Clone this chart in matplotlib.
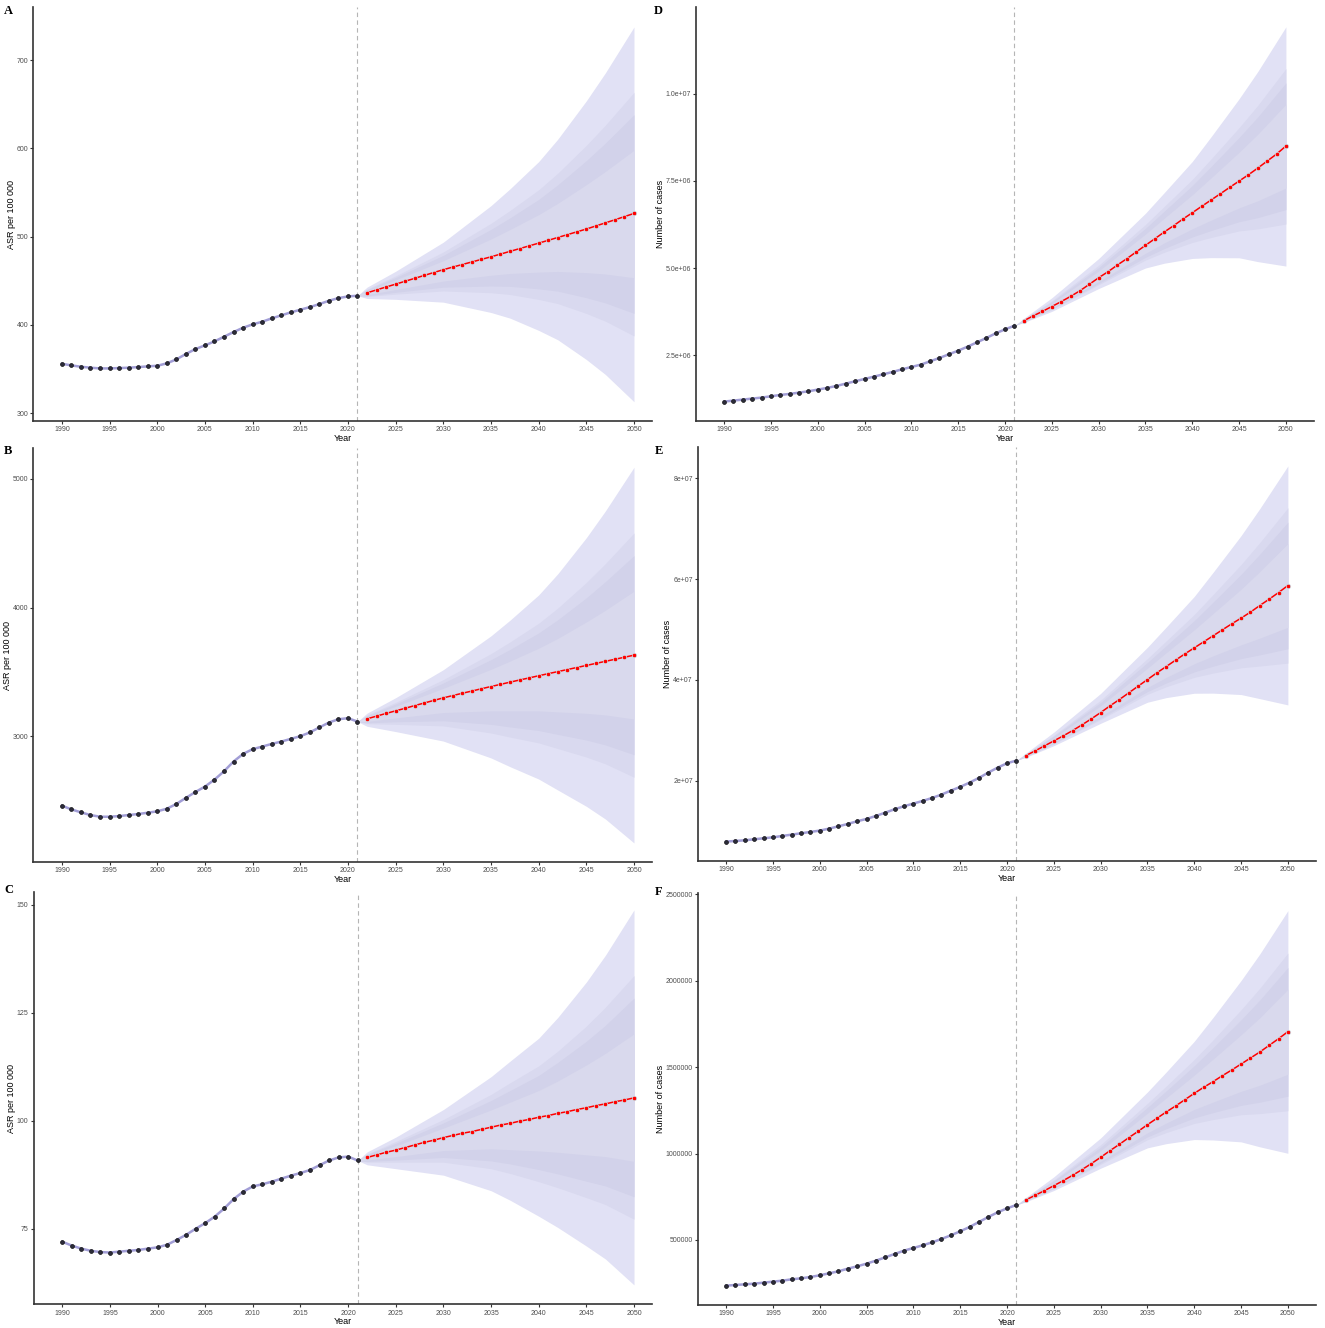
"""Projected ASR and case numbers, 1990-2050 (observed + forecast fan)."""

import matplotlib
matplotlib.use("Agg")
import matplotlib.pyplot as plt
import numpy as np

plt.rcParams['font.family'] = ['Liberation Sans', 'DejaVu Sans']

OBS_YEARS = list(range(1990, 2022))
PROJ_YEARS = list(range(2022, 2051))
BAND_YEARS = [2021, 2022, 2025, 2030, 2035, 2037, 2040, 2042, 2045, 2047, 2050]
XTICKS = list(range(1990, 2051, 5))

# ---- A: ASR per 100 000 ----
A_OBS = [355.9, 354.0, 352.5, 351.4, 350.6, 350.6, 351.0, 351.4, 352.1, 352.9, 353.6,
         356.3, 360.8, 366.9, 372.5, 376.7, 381.2, 386.5, 391.8, 396.7, 400.5, 403.5,
         407.3, 410.7, 414.1, 417.1, 420.1, 423.5, 427.3, 430.3, 432.2, 433.0]
A_PROJ = [436.3, 439.6, 442.9, 446.1, 449.4, 452.7, 456.0, 459.3, 462.5, 465.5, 468.4,
          471.3, 474.2, 477.1, 480.2, 483.3, 486.4, 489.5, 492.6, 495.8, 499.0, 502.2,
          505.4, 508.6, 512.1, 515.6, 519.1, 522.7, 526.3]
# fan bands, outer (95%) to inner, values at BAND_YEARS
A_UPPER = [[433.0, 442.7, 460.7, 493.7, 535.1, 554.2, 585.0, 610.4, 653.9, 685.7, 737.7],
           [433.0, 440.5, 455.5, 482.6, 515.1, 529.7, 553.1, 571.9, 603.5, 626.4, 663.6],
           [433.0, 439.7, 453.7, 478.8, 508.2, 521.3, 542.2, 558.7, 586.2, 606.1, 638.2],
           [433.0, 438.5, 450.9, 472.7, 497.3, 508.1, 524.9, 537.7, 558.9, 573.9, 597.9]]
A_LOWER = [[433.0, 429.9, 428.9, 425.7, 414.0, 407.6, 393.7, 383.1, 360.7, 343.7, 312.8],
           [433.0, 432.1, 434.8, 438.4, 436.4, 434.4, 428.8, 424.1, 412.9, 404.1, 387.4],
           [433.0, 432.9, 436.9, 442.7, 444.0, 443.6, 440.8, 438.2, 430.8, 424.8, 413.0],
           [433.0, 434.1, 440.1, 449.6, 456.2, 458.2, 459.8, 460.5, 459.2, 457.6, 453.4]]

# ---- B: ASR per 100 000 ----
B_OBS = [2460, 2431, 2408, 2387, 2374, 2374, 2379, 2387, 2395, 2405, 2416, 2436, 2473,
         2520, 2566, 2608, 2662, 2727, 2803, 2862, 2899, 2919, 2940, 2958, 2979, 3000,
         3029, 3068, 3106, 3132, 3140, 3114]
B_PROJ = [3135, 3156, 3177, 3197, 3217, 3238, 3258, 3278, 3298, 3316, 3334, 3351, 3369,
          3386, 3403, 3420, 3437, 3453, 3470, 3486, 3502, 3518, 3534, 3550, 3566, 3582,
          3598, 3614, 3630]
B_UPPER = [[3114, 3179, 3299, 3517, 3780, 3902, 4098, 4262, 4543, 4751, 5091],
           [3114, 3164, 3263, 3440, 3642, 3733, 3878, 3996, 4195, 4342, 4580],
           [3114, 3158, 3251, 3414, 3595, 3675, 3803, 3905, 4076, 4202, 4404],
           [3114, 3150, 3232, 3372, 3520, 3584, 3684, 3760, 3888, 3979, 4127]]
B_LOWER = [[3114, 3077, 3036, 2962, 2831, 2763, 2667, 2582, 2455, 2356, 2170],
           [3114, 3097, 3092, 3080, 3025, 2993, 2948, 2904, 2838, 2785, 2681],
           [3114, 3104, 3112, 3120, 3092, 3072, 3044, 3014, 2970, 2932, 2856],
           [3114, 3115, 3142, 3184, 3197, 3197, 3197, 3189, 3178, 3165, 3134]]

# ---- C: ASR per 100 000 ----
C_OBS = [72.0, 71.1, 70.4, 69.9, 69.6, 69.5, 69.7, 69.9, 70.1, 70.4, 70.7, 71.3, 72.4,
         73.6, 75.0, 76.3, 77.8, 79.7, 81.9, 83.6, 84.8, 85.3, 85.9, 86.6, 87.3, 87.9,
         88.6, 89.7, 90.8, 91.5, 91.7, 90.8]
C_PROJ = [91.5, 92.1, 92.7, 93.2, 93.8, 94.4, 95.0, 95.5, 96.1, 96.6, 97.1, 97.5, 98.0,
          98.5, 99.0, 99.4, 99.9, 100.3, 100.8, 101.2, 101.7, 102.1, 102.6, 103.0, 103.5,
          103.9, 104.4, 104.8, 105.3]
C_UPPER = [[90.8, 92.8, 96.2, 102.6, 110.2, 113.8, 119.1, 123.9, 132.1, 138.3, 148.8],
           [90.8, 92.3, 95.2, 100.3, 106.1, 108.8, 112.7, 116.1, 121.9, 126.3, 133.6],
           [90.8, 92.2, 94.8, 99.5, 104.7, 107.0, 110.5, 113.5, 118.4, 122.1, 128.4],
           [90.8, 91.9, 94.2, 98.3, 102.5, 104.3, 107.0, 109.2, 112.9, 115.6, 120.1]]
C_LOWER = [[90.8, 89.8, 88.9, 87.4, 83.8, 81.6, 77.9, 75.3, 71.0, 68.0, 62.0],
           [90.8, 90.4, 90.4, 90.4, 88.9, 87.8, 85.9, 84.5, 82.2, 80.6, 77.2],
           [90.8, 90.6, 90.9, 91.5, 90.7, 90.0, 88.7, 87.7, 86.0, 84.9, 82.4],
           [90.8, 90.9, 91.7, 93.1, 93.5, 93.3, 93.0, 92.7, 92.1, 91.7, 90.6]]

# ---- D: number of cases (millions) ----
D_OBS = [1.174, 1.202, 1.231, 1.260, 1.288, 1.326, 1.364, 1.393, 1.431, 1.469, 1.517,
         1.565, 1.622, 1.689, 1.756, 1.823, 1.889, 1.956, 2.023, 2.099, 2.166, 2.233,
         2.328, 2.424, 2.529, 2.634, 2.748, 2.872, 2.996, 3.130, 3.244, 3.349]
D_PROJ = [3.49, 3.63, 3.76, 3.90, 4.04, 4.19, 4.35, 4.536, 4.725, 4.897, 5.089, 5.270,
          5.462, 5.654, 5.843, 6.035, 6.216, 6.408, 6.588, 6.772, 6.952, 7.133, 7.317,
          7.497, 7.678, 7.870, 8.071, 8.271, 8.501]
D_UPPER = [[3.349, 3.56, 4.15, 5.275, 6.574, 7.164, 8.058, 8.765, 9.857, 10.640, 11.92],
           [3.349, 3.536, 4.063, 5.083, 6.252, 6.769, 7.544, 8.130, 9.031, 9.671, 10.724],
           [3.349, 3.527, 4.033, 5.017, 6.142, 6.633, 7.367, 7.913, 8.748, 9.338, 10.314],
           [3.349, 3.515, 3.988, 4.918, 5.976, 6.430, 7.103, 7.587, 8.323, 8.840, 9.698]]
D_LOWER = [[3.349, 3.44, 3.76, 4.415, 5.004, 5.141, 5.278, 5.301, 5.297, 5.187, 5.06],
           [3.349, 3.457, 3.809, 4.523, 5.231, 5.454, 5.736, 5.879, 6.067, 6.126, 6.265],
           [3.349, 3.463, 3.826, 4.561, 5.309, 5.561, 5.894, 6.077, 6.331, 6.448, 6.678],
           [3.349, 3.472, 3.851, 4.616, 5.426, 5.722, 6.129, 6.374, 6.727, 6.931, 7.297]]

# ---- E: number of cases (millions) ----
E_OBS = [7.98, 8.11, 8.24, 8.44, 8.64, 8.83, 9.10, 9.36, 9.63, 9.89, 10.16, 10.55,
         11.01, 11.48, 12.01, 12.47, 13.06, 13.72, 14.39, 14.98, 15.51, 16.04, 16.63,
         17.29, 18.08, 18.81, 19.67, 20.59, 21.65, 22.64, 23.50, 24.03]
E_PROJ = [25.01, 25.95, 26.94, 27.93, 28.92, 29.97, 31.10, 32.29, 33.54, 34.87, 36.12,
          37.44, 38.77, 40.08, 41.41, 42.65, 43.92, 45.17, 46.36, 47.55, 48.74, 49.93,
          51.12, 52.25, 53.44, 54.75, 56.01, 57.32, 58.71]
E_UPPER = [[24.03, 25.48, 29.66, 37.33, 46.48, 50.47, 56.55, 61.30, 68.60, 73.95, 82.41],
           [24.03, 25.32, 29.05, 36.00, 44.24, 47.73, 52.98, 56.90, 62.88, 67.23, 74.12],
           [24.03, 25.26, 28.85, 35.55, 43.47, 46.79, 51.76, 55.40, 60.92, 64.93, 71.27],
           [24.03, 25.17, 28.54, 34.87, 42.32, 45.39, 49.93, 53.14, 57.97, 61.47, 67.01]]
E_LOWER = [[24.03, 24.66, 26.98, 31.41, 35.59, 36.50, 37.37, 37.39, 37.11, 36.30, 35.06],
           [24.03, 24.78, 27.31, 32.16, 37.16, 38.65, 40.52, 41.36, 42.41, 42.76, 43.34],
           [24.03, 24.82, 27.43, 32.41, 37.70, 39.39, 41.60, 42.72, 44.23, 44.97, 46.18],
           [24.03, 24.89, 27.60, 32.79, 38.51, 40.50, 43.21, 44.77, 46.95, 48.29, 50.43]]

# ---- F: number of cases (thousands) ----
F_OBS = [236.0, 239.9, 243.7, 247.6, 253.4, 259.2, 264.9, 272.6, 278.4, 286.1, 295.8,
         307.3, 318.9, 334.3, 347.8, 363.2, 380.5, 399.8, 419.1, 438.3, 453.8, 469.2,
         486.5, 505.8, 527.0, 550.1, 575.1, 604.0, 632.9, 659.9, 683.0, 702.3]
F_PROJ = [731.2, 758.2, 785.2, 814.1, 843.0, 873.8, 906.6, 941.2, 977.8, 1016.4, 1053.0,
          1091.5, 1128.1, 1166.7, 1203.3, 1239.9, 1274.6, 1311.2, 1347.8, 1382.5, 1415.2,
          1449.9, 1482.7, 1517.3, 1552.0, 1586.7, 1625.2, 1663.8, 1704.3]
F_UPPER = [[702.3, 745.2, 865.1, 1089.8, 1355.7, 1470.9, 1648.8, 1786.2, 2000.3, 2153.7, 2404.3],
           [702.3, 740.2, 847.1, 1050.8, 1289.7, 1389.9, 1543.8, 1656.2, 1831.3, 1955.7, 2159.3],
           [702.3, 738.2, 841.1, 1036.8, 1266.7, 1361.9, 1507.8, 1612.2, 1773.3, 1887.7, 2075.3],
           [702.3, 736.2, 832.1, 1016.8, 1232.7, 1320.9, 1452.8, 1545.2, 1686.3, 1784.7, 1949.3]]
F_LOWER = [[702.3, 720.2, 786.1, 914.8, 1032.7, 1056.9, 1080.8, 1078.2, 1067.3, 1038.7, 1001.3],
           [702.3, 724.2, 796.1, 936.8, 1079.7, 1120.9, 1173.8, 1196.2, 1224.3, 1230.7, 1247.3],
           [702.3, 725.2, 799.1, 944.8, 1095.7, 1142.9, 1205.8, 1236.2, 1278.3, 1296.7, 1331.3],
           [702.3, 727.2, 804.1, 955.8, 1119.7, 1175.9, 1254.8, 1297.2, 1359.3, 1394.7, 1458.3]]

A_TICKS = [300, 400, 500, 600, 700]
B_TICKS = [3000, 4000, 5000]
C_TICKS = [75, 100, 125, 150]
D_TICKS = [2.5e6, 5.0e6, 7.5e6, 1.0e7]
D_TICKLABELS = ['2.5e+06', '5.0e+06', '7.5e+06', '1.0e+07']
E_TICKS = [2e7, 4e7, 6e7, 8e7]
E_TICKLABELS = ['2e+07', '4e+07', '6e+07', '8e+07']
F_TICKS = [500000, 1000000, 1500000, 2000000, 2500000]

BAND_COLORS = ['#e1e1f5', '#d9d9ef', '#d2d2ea', '#d9d9ed']
OBS_LINE = '#a29ed6'
AXIS_COLOR = '#333333'
TICK_COLOR = '#4d4d4d'


def draw_panel(fig, rect, letter, letter_xy, obs, proj, upper, lower, scale,
               xlim, ylim, yticks, yticklabels, ylabel, ylabel_x):
    ax = fig.add_axes(rect)
    obs = np.asarray(obs) * scale
    proj = np.asarray(proj) * scale

    for band_hi, band_lo, col in zip(upper, lower, BAND_COLORS):
        ax.fill_between(BAND_YEARS, np.asarray(band_lo) * scale,
                        np.asarray(band_hi) * scale, color=col, lw=0, zorder=1)

    ax.axvline(2021, color='#b5b5b5', lw=0.8, ls=(0, (4, 3)), zorder=2)

    ax.plot(OBS_YEARS, obs, color=OBS_LINE, lw=1.8, zorder=3)
    ax.plot(OBS_YEARS, obs, ls='none', marker='o', ms=2.8, mfc='#2b2b3a',
            mec='#111111', mew=0.5, zorder=4)
    ax.plot(PROJ_YEARS, proj, color='#ff0000', lw=1.1, zorder=5)
    ax.plot(PROJ_YEARS, proj, ls='none', marker='o', ms=3.2, mfc='#ff0000',
            mec='#c8e6ee', mew=0.5, zorder=6)

    ax.set_xlim(*xlim)
    ax.set_ylim(*ylim)
    ax.set_xticks(XTICKS)
    ax.set_yticks(yticks)
    if yticklabels is not None:
        ax.set_yticklabels(yticklabels)
    else:
        ax.set_yticklabels([str(int(t)) for t in yticks])

    for side in ('top', 'right'):
        ax.spines[side].set_visible(False)
    for side in ('left', 'bottom'):
        ax.spines[side].set_color(AXIS_COLOR)
        ax.spines[side].set_linewidth(1.2)
    ax.tick_params(axis='both', direction='out', length=2.2, width=0.8,
                   color=AXIS_COLOR, labelsize=5, labelcolor=TICK_COLOR, pad=1.5)

    ax.set_xlabel('Year', fontsize=6.5, labelpad=0.5)
    ax.set_ylabel(ylabel, fontsize=6.5)
    ax.yaxis.set_label_coords(ylabel_x, 0.5)

    fig.text(letter_xy[0], letter_xy[1], letter, family=['Liberation Serif', 'DejaVu Serif'],
             fontweight='bold', fontsize=9, ha='left', va='top')
    return ax


fig = plt.figure(figsize=(13.25, 13.28), dpi=100)

LEFT_X = (1987, 2051.85)
RIGHT_X = (1987, 2053)

draw_panel(fig, (0.0251, 0.6830, 0.4667, 0.3115), 'A', (0.003, 0.9965),
           A_OBS, A_PROJ, A_UPPER, A_LOWER, 1, LEFT_X, (291, 760),
           A_TICKS, None, 'ASR per 100 000', -0.0277)
draw_panel(fig, (0.0251, 0.3509, 0.4667, 0.3117), 'B', (0.003, 0.6650),
           B_OBS, B_PROJ, B_UPPER, B_LOWER, 1, LEFT_X, (2022, 5240),
           B_TICKS, None, 'ASR per 100 000', -0.0348)
draw_panel(fig, (0.0254, 0.0178, 0.4664, 0.3107), 'C', (0.003, 0.3340),
           C_OBS, C_PROJ, C_UPPER, C_LOWER, 1, LEFT_X, (57.5, 153),
           C_TICKS, None, 'ASR per 100 000', -0.0282)
draw_panel(fig, (0.5253, 0.6832, 0.4664, 0.3113), 'D', (0.4935, 0.9965),
           D_OBS, D_PROJ, D_UPPER, D_LOWER, 1e6, RIGHT_X, (0.625e6, 12.48e6),
           D_TICKS, D_TICKLABELS, 'Number of cases', -0.0498)
draw_panel(fig, (0.5268, 0.3519, 0.4664, 0.3113), 'E', (0.4940, 0.6650),
           E_OBS, E_PROJ, E_UPPER, E_LOWER, 1e6, RIGHT_X, (4.2e6, 86.1e6),
           E_TICKS, E_TICKLABELS, 'Number of cases', -0.0422)
draw_panel(fig, (0.5268, 0.0173, 0.4664, 0.3105), 'F', (0.4940, 0.3330),
           F_OBS, F_PROJ, F_UPPER, F_LOWER, 1e3, RIGHT_X, (124e3, 2.508e6),
           F_TICKS, None, 'Number of cases', -0.0531)

fig.savefig('out.png', dpi=100)
